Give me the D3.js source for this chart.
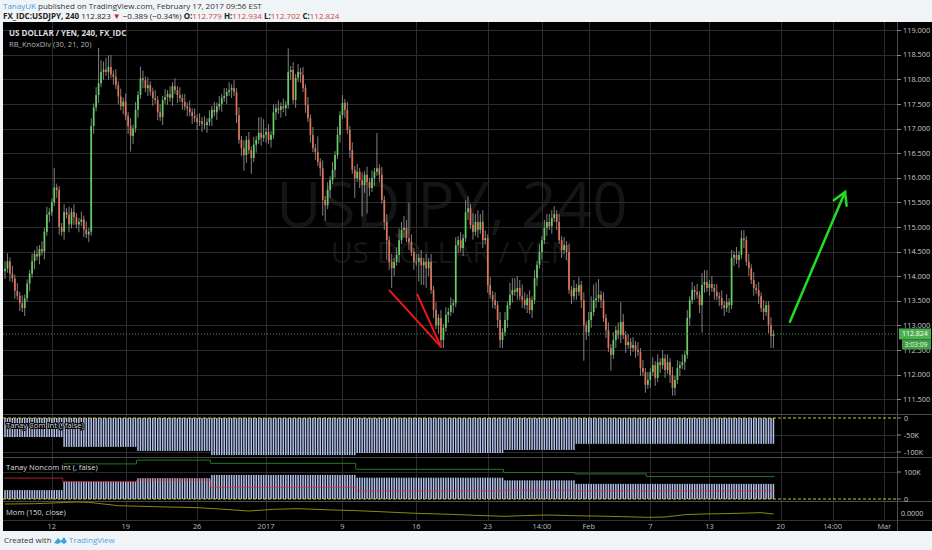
<!DOCTYPE html>
<html><head><meta charset="utf-8">
<script src="https://cdn.jsdelivr.net/npm/d3@7"></script>
<style>
body{margin:0;background:#f1f4f7;}
svg{display:block;font-family:"Open Sans",sans-serif;}
</style></head><body>
<svg id="c" width="932" height="550"></svg>
<script>
// ---------- DATA ----------
const closes = [
114.15,114.30,114.05,113.95,113.70,113.60,113.45,113.35,113.55,113.85,
114.05,114.30,114.45,114.40,114.55,114.50,114.90,115.25,115.30,115.50,
115.80,115.75,115.00,114.90,115.30,115.25,115.05,115.30,115.20,115.05,
115.10,115.15,114.95,114.85,114.90,117.05,117.43,117.68,117.92,118.15,
118.20,118.15,118.25,118.10,118.05,117.88,117.65,117.45,117.55,117.25,
117.05,116.85,117.00,117.38,117.68,118.02,117.98,117.82,117.88,117.75,
117.62,117.58,117.33,117.23,117.58,117.64,117.70,117.62,117.86,117.78,
117.68,117.62,117.54,117.45,117.41,117.33,117.25,117.21,117.13,117.15,
117.09,117.07,117.13,117.21,117.38,117.33,117.45,117.50,117.62,117.66,
117.74,117.78,117.82,117.74,117.27,116.77,116.60,116.46,116.77,116.56,
116.40,116.67,116.77,116.91,116.81,116.87,116.93,116.77,116.87,117.33,
117.41,117.38,117.45,117.41,117.48,118.15,118.19,117.58,118.03,118.15,
118.09,117.82,117.48,117.21,116.87,116.60,116.52,116.32,116.19,115.55,
115.44,115.75,115.95,116.16,116.46,116.87,117.27,117.52,117.38,116.97,
116.56,116.16,115.99,116.12,115.95,115.85,116.06,115.91,115.79,115.99,
116.12,116.19,116.06,115.55,115.10,114.73,114.29,114.16,114.29,114.43,
114.73,114.94,114.98,114.77,114.69,114.49,114.29,114.29,114.37,114.22,
114.29,114.16,114.29,113.72,113.31,113.00,113.15,112.70,112.95,113.21,
113.27,113.41,113.45,114.63,114.73,114.57,114.77,115.30,115.38,115.04,
114.90,115.10,114.94,115.10,114.73,114.77,113.82,113.62,113.51,113.41,
113.11,112.70,112.86,113.11,113.41,113.62,113.72,113.68,113.76,113.59,
113.51,113.41,113.55,113.31,113.51,113.96,114.23,114.49,114.73,114.98,
115.10,115.02,115.18,115.26,115.10,114.73,114.53,114.63,114.49,113.72,
113.59,113.76,113.68,113.82,113.51,113.00,112.86,113.11,113.27,113.51,
113.55,113.62,113.51,113.15,112.90,112.54,112.40,112.70,112.90,112.80,
113.07,112.80,112.60,112.66,112.54,112.60,112.50,112.46,112.13,112.05,
111.79,111.89,112.05,112.19,111.93,112.25,112.19,112.33,112.09,112.25,
111.99,111.73,111.89,112.13,112.19,112.25,112.40,113.15,113.51,113.72,
113.68,113.62,113.41,113.82,113.88,113.76,113.84,113.76,113.68,113.59,
113.55,113.41,113.35,113.47,113.41,114.37,114.43,114.33,114.43,114.77,
114.73,114.29,114.16,113.92,113.76,113.72,113.59,113.35,113.27,113.41,
113.00,112.78,112.82
];
const firstOpen = 114.10;
// wick lengths above / below body, one digit per bar (units of 0.08)
const wickUp =
"2212121211"+"1212121211"+"5111212121"+"1212121293"+"2333121212"+
"1212132121"+"1212121212"+"1212121212"+"1212121212"+"1212121212"+
"1214441212"+"1212161212"+"1212121412"+"1212121212"+"1212121212"+
"1912121212"+"3232921212"+"1212121212"+"1212121331"+"3232321212"+
"1212133332"+"3212121212"+"2222121212"+"1212121244"+"4412121212"+
"5212121212"+"1212121212"+"1212121212"+"1213331212"+"1212121212"+
"2121212121"+"121";
const wickDn =
"2121212121"+"2121212121"+"1221212121"+"2121212121"+"2121212121"+
"2421212121"+"2121212121"+"2121212121"+"2121212121"+"2121212421"+
"4121212121"+"2121212121"+"2121212124"+"4121212121"+"2151282821"+
"2121252521"+"2121212155"+"5521212221"+"2121212121"+"2121212121"+
"2221212121"+"2121212121"+"2121212121"+"2121292121"+"2121214121"+
"2121212121"+"2121212121"+"2221212121"+"2127212121"+"2121212121"+
"2121212121"+"233";
const priceTicks = [111.5,112,112.5,113,113.5,114,114.5,115,115.5,116,116.5,117,117.5,118,118.5,119];
const timeTickIdx = [19,49,78,106,137,167,196,218,237,262,286,315,336,357];
const timeTickLabels = ["12","19","26","2017","9","16","23","14:00","Feb","7","13","20","14:00","Mar"];
const segStart   = [0,24,54,84,143,203,232,261];
const comInt     = [-56,-85,-97,-109,-103,-94,-76,-76];
const noncomNet  = [33,64,77,89,79,69,56,56];
const noncomLong = [null,130,144,132,110,98,93,83];
const noncomShort= [77,64,70,43,30,33,30,30];
const momIdx = [0,12,29,34,46,61,78,85,99,109,119,133,143,152,167,181,191,203,210,220,230,239,251,261,268,276,283,292,302,307,312];
const momVal = [4.5,4.65,5.5,5.33,3.65,3.17,2.67,2.17,1.0,1.83,2.17,1.5,1.17,0.67,-0.17,-0.67,-1.17,-1.67,-1.33,-1.0,-1.33,-1.5,-1.83,-2.17,-2.0,-0.83,-0.5,-0.33,0.0,0.17,-0.5];
const redLines = [[[155.9,113.72],[177,112.56]],[[167.3,113.64],[177,112.56]]];
const greenArrow = [[318.7,113.07],[341.05,115.71]];
const greenHead = [[336.5,115.54],[341.05,115.71],[341.7,115.43]];
const lastPrice = 112.824;

// ---------- SCALES ----------
const svg = d3.select("#c");
const L = 3, R = 897, W = 932;
const x = d3.scaleLinear().domain([0,356]).range([5, 5+356*2.463]);
const y = d3.scaleLinear().domain([113,119]).range([325.3, 325.3-6*49.2]);
const yCom = d3.scaleLinear().domain([0,-100]).range([418,452]);
const yNon = d3.scaleLinear().domain([0,100]).range([499,472]);
const yMom = d3.scaleLinear().domain([0,5]).range([513,503]);
const WU = 0.08;

// header
svg.append("rect").attr("x",0).attr("y",0).attr("width",W).attr("height",550).attr("fill","#f1f4f7");
const h1 = svg.append("text").attr("x",3).attr("y",8.5).attr("font-size",8).attr("fill","#333");
h1.append("tspan").attr("fill","#3ba0e0").text("TanayUK");
h1.append("tspan").text(" published on TradingView.com, February 17, 2017 09:56 EST");
const h2 = svg.append("text").attr("x",3).attr("y",19).attr("font-size",8).attr("fill","#222");
h2.append("tspan").attr("font-weight","bold").text("FX_IDC:USDJPY, 240 ");
h2.append("tspan").text("112.823 ");
h2.append("tspan").attr("fill","#c62828").text("▼");
h2.append("tspan").text(" −0.389 (−0.34%) ");
[["O:","112.779"],["H:","112.934"],["L:","112.702"],["C:","112.824"]].forEach(([k,v])=>{
  h2.append("tspan").attr("font-weight","bold").text(k);
  h2.append("tspan").attr("fill","#d0453a").text(v+" ");
});

// chart background
svg.append("rect").attr("x",L).attr("y",22).attr("width",W-L).attr("height",509).attr("fill","#000");

// watermark
svg.append("text").attr("x",452).attr("y",227).attr("text-anchor","middle").attr("font-size",62)
  .attr("fill","#151515").text("USDJPY, 240");
svg.append("text").attr("x",452).attr("y",263).attr("text-anchor","middle").attr("font-size",30)
  .attr("fill","#151515").text("US DOLLAR / YEN");

// grids
const grid = svg.append("g").attr("stroke","#2c2c2c").attr("stroke-width",1);
priceTicks.forEach(p=>{
  grid.append("line").attr("x1",L).attr("x2",R).attr("y1",Math.round(y(p))+0.5).attr("y2",Math.round(y(p))+0.5);
});
[yCom(-50),yCom(-100)].forEach(v=>grid.append("line").attr("x1",L).attr("x2",R).attr("y1",Math.round(v)+0.5).attr("y2",Math.round(v)+0.5));
grid.append("line").attr("x1",L).attr("x2",R).attr("y1",Math.round(yNon(100))+0.5).attr("y2",Math.round(yNon(100))+0.5);
timeTickIdx.forEach(i=>{
  grid.append("line").attr("x1",Math.round(x(i))+0.5).attr("x2",Math.round(x(i))+0.5).attr("y1",22).attr("y2",520);
});

// separators
const sep = svg.append("g").attr("stroke","#4a4a4a");
[414.5,457.5,501.5].forEach(v=>sep.append("line").attr("x1",L).attr("x2",W).attr("y1",v).attr("y2",v));
sep.append("line").attr("x1",L).attr("x2",W).attr("y1",520.5).attr("y2",520.5).attr("stroke","#333");
sep.append("line").attr("x1",R+0.5).attr("x2",R+0.5).attr("y1",22).attr("y2",531);

// candles
const bars = closes.map((c,i)=>{
  const o = i===0 ? firstOpen : closes[i-1];
  const h = Math.max(o,c) + (+wickUp[i])*WU;
  const l = Math.min(o,c) - (+wickDn[i])*WU;
  return {i,o,c,h,l};
});
const cg = svg.append("g");
cg.selectAll("line.w").data(bars).join("line").attr("class","w")
  .attr("x1",d=>x(d.i)).attr("x2",d=>x(d.i)).attr("y1",d=>y(d.h)).attr("y2",d=>y(d.l))
  .attr("stroke","#8e8e8e").attr("stroke-width",0.9);
cg.selectAll("rect").data(bars).join("rect")
  .attr("x",d=>x(d.i)-0.85).attr("width",1.7)
  .attr("y",d=>y(Math.max(d.o,d.c)))
  .attr("height",d=>Math.max(1,Math.abs(y(d.o)-y(d.c))))
  .attr("fill",d=>d.c>=d.o?"#62d062":"#e2725a");

// last price line
svg.append("line").attr("x1",L).attr("x2",R).attr("y1",y(lastPrice)).attr("y2",y(lastPrice))
  .attr("stroke","#4f8f58").attr("stroke-dasharray","1,2");

// annotations
const ln = d3.line().x(d=>x(d[0])).y(d=>y(d[1]));
redLines.forEach(s=>svg.append("path").attr("d",ln(s)).attr("stroke","#f01818").attr("stroke-width",2).attr("fill","none"));
svg.append("path").attr("d",ln(greenArrow)).attr("stroke","#22dd22").attr("stroke-width",2.5).attr("fill","none").attr("stroke-linecap","round");
svg.append("path").attr("d",ln(greenHead)).attr("stroke","#22dd22").attr("stroke-width",2.5).attr("fill","none").attr("stroke-linecap","round").attr("stroke-linejoin","miter");

// pane titles
svg.append("text").attr("x",9).attr("y",36).attr("font-size",8).attr("font-weight","bold").attr("fill","#dcdcdc").text("US DOLLAR / YEN, 240, FX_IDC");
svg.append("text").attr("x",9).attr("y",46.5).attr("font-size",7.6).attr("fill","#b4b4b4").text("RB_KnoxDiv (30, 21, 20)");

// price axis
const ax = svg.append("g").attr("font-size",7.4).attr("fill","#c8c8c8");
priceTicks.forEach(p=>{
  ax.append("line").attr("x1",R).attr("x2",R+4).attr("y1",Math.round(y(p))+0.5).attr("y2",Math.round(y(p))+0.5).attr("stroke","#888");
  ax.append("text").attr("x",903).attr("y",y(p)+2.6).text(d3.format(".3f")(p));
});
// last price labels
svg.append("rect").attr("x",899).attr("y",y(lastPrice)-5.5).attr("width",32).attr("height",11).attr("fill","#4caf50");
svg.append("text").attr("x",902).attr("y",y(lastPrice)+2.5).attr("font-size",7).attr("fill","#fff").text("112.824");
svg.append("rect").attr("x",902).attr("y",y(lastPrice)+5.5).attr("width",29).attr("height",10).attr("fill","#3f9c44");
svg.append("text").attr("x",904.5).attr("y",y(lastPrice)+13.2).attr("font-size",6.8).attr("fill","#eaffea").text("3:03:09");

// indicator panes
const segEnd = segStart.slice(1).concat([closes.length]);
const segOf = i => { let k=0; for(let s=0;s<segStart.length;s++) if(i>=segStart[s]) k=s; return k; };
const idx = d3.range(closes.length);
const pg = svg.append("g");
pg.selectAll("rect.com").data(idx).join("rect").attr("class","com")
  .attr("x",i=>x(i)-0.75).attr("width",1.5)
  .attr("y",yCom(0)).attr("height",i=>yCom(comInt[segOf(i)])-yCom(0))
  .attr("fill","#b3c2ec");
pg.selectAll("rect.non").data(idx).join("rect").attr("class","non")
  .attr("x",i=>x(i)-0.75).attr("width",1.5)
  .attr("y",i=>yNon(noncomNet[segOf(i)])).attr("height",i=>yNon(0)-yNon(noncomNet[segOf(i)]))
  .attr("fill","#b3c2ec");
function stepPath(vals, sc){
  let d="";
  vals.forEach((v,k)=>{
    if(v==null) return;
    const x0 = x(segStart[k])-1, x1 = x(segEnd[k]-1)+1;
    d += `M${x0},${sc(v)}H${x1}`;
    if(k+1<vals.length && vals[k+1]!=null) d += `V${sc(vals[k+1])}`;
  });
  return d;
}
pg.append("path").attr("d",stepPath(noncomLong,yNon)).attr("stroke","#1f7a1f").attr("fill","none");
pg.append("path").attr("d",stepPath(noncomShort,yNon)).attr("stroke","rgba(235,40,60,0.6)").attr("stroke-width",1.2).attr("fill","none");

// yellow dashed zero lines
[yCom(0),yNon(0)].forEach(v=>svg.append("line").attr("x1",L).attr("x2",R).attr("y1",v).attr("y2",v)
  .attr("stroke","#c9c624").attr("stroke-dasharray","3,2"));

// momentum
svg.append("path").attr("d",d3.line().x((d,k)=>x(momIdx[k])).y(d=>yMom(d))(momVal))
  .attr("stroke","#8a8a10").attr("stroke-width",1).attr("fill","none");

// pane labels
const lab = (t,yy)=>svg.append("text").attr("x",6).attr("y",yy).attr("font-size",7.6).attr("fill","#dcdcdc")
  .attr("stroke","#000").attr("stroke-width",2).attr("paint-order","stroke").text(t);
lab("Tanay Com Int (, false)",428);
lab("Tanay Noncom Int (, false)",470);
lab("Mom (150, close)",515);

// indicator axis labels
const ia = svg.append("g").attr("font-size",7.2).attr("fill","#c8c8c8");
[[yCom(0),"0"],[yCom(-50),"-50K"],[yCom(-100),"-100K"],[yNon(100),"100K"],[yNon(0),"0"]].forEach(([v,t])=>{
  ia.append("line").attr("x1",R).attr("x2",R+4).attr("y1",v).attr("y2",v).attr("stroke","#888");
  ia.append("text").attr("x",904).attr("y",v+2.5).text(t);
});
ia.append("text").attr("x",901).attr("y",yMom(0)+2.5).text("0.0000");

// time axis
const ta = svg.append("g").attr("font-size",7.4).attr("fill","#bdbdbd").attr("text-anchor","middle");
timeTickIdx.forEach((i,k)=>ta.append("text").attr("x",x(i)).attr("y",528.5).text(timeTickLabels[k]));

// footer
svg.append("text").attr("x",4).attr("y",543).attr("font-size",8).attr("fill","#333").text("Created with");
const logo = svg.append("g").attr("transform","translate(54,536)");
logo.append("path").attr("d","M0,7 L4,2 L7,5 L10,1 L13,6 L10,8 L7,6 L4,8 Z").attr("fill","#3aa0e0");
svg.append("text").attr("x",69).attr("y",543).attr("font-size",8).attr("fill","#4aa3e3").text("TradingView");
</script>
</body></html>
